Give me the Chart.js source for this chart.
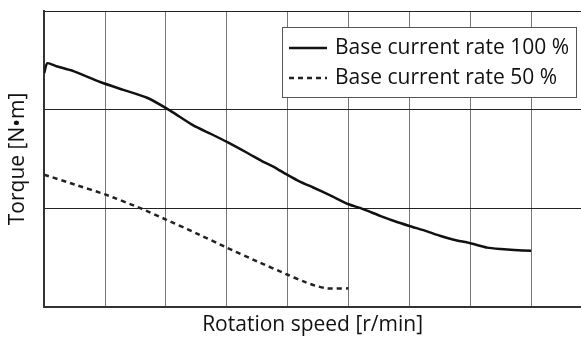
<!DOCTYPE html>
<html>
<head>
<meta charset="utf-8">
<script src="https://cdn.jsdelivr.net/npm/chart.js@4/dist/chart.umd.min.js"></script>
<style>
  html, body { margin: 0; padding: 0; background: #fff; }
  #wrap { width: 581px; height: 338px; }
</style>
</head>
<body>
<div id="wrap"><canvas id="torqueChart" width="581" height="338"></canvas></div>
<script>
// Speed in grid divisions, torque in grid divisions
const speed100 = [0, 0.05, 0.2, 0.48, 0.92, 1.3, 1.69, 2.07, 2.45, 2.75, 3.01, 3.34, 3.6, 3.77, 3.99, 4.2, 4.42, 4.7, 5.0, 5.2, 5.53, 5.75, 6.0, 6.29, 6.5, 6.73, 7.0, 7.28, 7.5, 7.72, 8.0];
const torque100 = [2.37, 2.47, 2.44, 2.39, 2.28, 2.2, 2.12, 1.99, 1.84, 1.75, 1.67, 1.56, 1.47, 1.42, 1.34, 1.27, 1.21, 1.13, 1.04, 1.0, 0.92, 0.87, 0.82, 0.765, 0.72, 0.68, 0.645, 0.6, 0.585, 0.575, 0.568];
const speed50 = [0, 0.5, 1.0, 1.58, 2.0, 2.5, 3.0, 3.5, 4.0, 4.25, 4.45, 4.65, 5.0];
const torque50 = [1.34, 1.24, 1.14, 1.0, 0.885, 0.745, 0.6, 0.46, 0.325, 0.26, 0.215, 0.187, 0.187];
const seriesLabels = ['Base current rate 100 %', 'Base current rate 50 %'];

const toPoints = (xs, ys) => xs.map((x, i) => ({ x: x, y: ys[i] }));

const fontFamily = '"Open Sans", "Noto Sans", sans-serif';

// legend box drawn inside the plot, top right
const boxLegend = {
    id: 'boxLegend',
    afterDraw(chart) {
        const ctx = chart.ctx;
        const x0 = 282, y0 = 27, w = 295, h = 71;
        ctx.save();
        ctx.fillStyle = '#fff';
        ctx.fillRect(x0, y0, w, h);
        ctx.strokeStyle = '#555';
        ctx.lineWidth = 1;
        ctx.strokeRect(x0 + 0.5, y0 + 0.5, w - 1, h - 1);
        ctx.font = '21px ' + fontFamily;
        ctx.textBaseline = 'middle';
        chart.data.datasets.forEach((ds, i) => {
            const cy = y0 + 21 + i * 30;
            ctx.strokeStyle = ds.borderColor;
            ctx.lineWidth = ds.borderWidth;
            ctx.setLineDash(ds.borderDash || []);
            ctx.beginPath();
            ctx.moveTo(x0 + 7, cy);
            ctx.lineTo(x0 + 45, cy);
            ctx.stroke();
            ctx.setLineDash([]);
            ctx.fillStyle = '#111';
            ctx.fillText(ds.label, x0 + 53, cy);
        });
        ctx.restore();
    }
};

const intTicks = scale => {
    scale.ticks = scale.ticks.filter(t => Number.isInteger(t.value));
};

new Chart(document.getElementById('torqueChart'), {
    type: 'line',
    data: {
        datasets: [{
            label: seriesLabels[0],
            data: toPoints(speed100, torque100),
            borderColor: '#111',
            borderWidth: 2.5,
            pointRadius: 0,
            tension: 0.2,
            fill: false
        }, {
            label: seriesLabels[1],
            data: toPoints(speed50, torque50),
            borderColor: '#222',
            borderWidth: 2.5,
            borderDash: [5, 4],
            pointRadius: 0,
            tension: 0.2,
            fill: false
        }]
    },
    options: {
        responsive: false,
        animation: false,
        layout: { padding: { top: 11, right: 0, left: 0, bottom: 0 } },
        plugins: { legend: { display: false }, tooltip: { enabled: false } },
        scales: {
            x: {
                type: 'linear',
                min: 0,
                max: 8.82,
                afterBuildTicks: intTicks,
                ticks: { display: false, stepSize: 1 },
                grid: { color: '#777', lineWidth: 1, drawTicks: false },
                border: { display: true, color: '#333', width: 2 },
                title: {
                    display: true,
                    text: 'Rotation speed [r/min]',
                    color: '#111',
                    font: { family: fontFamily, size: 21 },
                    padding: { top: 6, bottom: 0 }
                }
            },
            y: {
                type: 'linear',
                min: 0,
                max: 3,
                ticks: { display: false, stepSize: 1 },
                grid: { color: '#222', lineWidth: 1, drawTicks: false },
                border: { display: true, color: '#333', width: 2 },
                title: {
                    display: true,
                    text: 'Torque [N•m]',
                    color: '#111',
                    font: { family: fontFamily, size: 21 },
                    padding: { top: 5, bottom: 14 }
                }
            }
        }
    },
    plugins: [boxLegend]
});
</script>
</body>
</html>
